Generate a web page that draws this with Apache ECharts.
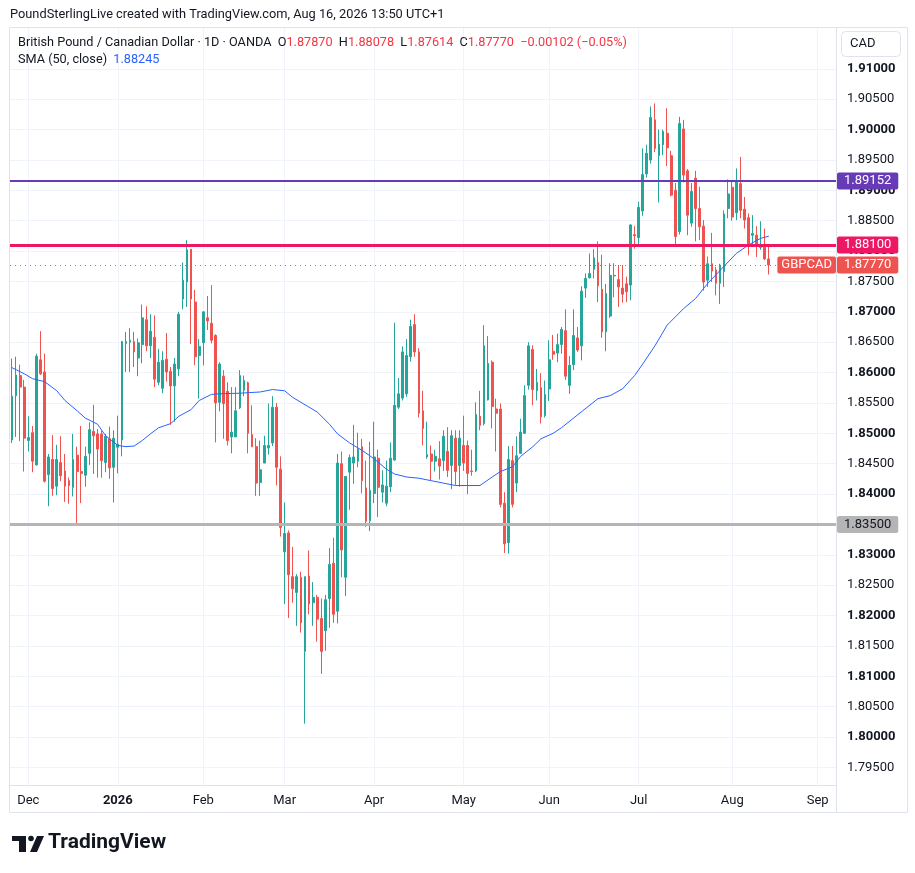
<!DOCTYPE html>
<html><head><meta charset="utf-8">
<script src="https://cdn.jsdelivr.net/npm/echarts@6/dist/echarts.min.js"></script>
<style>html,body{margin:0;padding:0;background:#fff}#c{width:915px;height:873px}</style>
</head><body><div id="c"></div>
<script>
// ---- calendar ----
const firstDate = '2025-11-25';
const holidays = ['2025-12-25', '2026-01-01'];
const slotCount = 203; // trading slots on the axis (data + empty future)
const monthNames = ['Jan','Feb','Mar','Apr','May','Jun','Jul','Aug','Sep','Oct','Nov','Dec'];

// ---- OHLC (GBPCAD daily, OANDA) ----
const opens = [
1.8489,1.8562,1.8595,1.8576,1.8488,1.8501,1.8448,1.8621,1.8601,1.8432,
1.8457,1.8413,1.8452,1.8438,1.8422,1.8411,1.8464,1.8437,1.8431,1.8467,
1.8503,1.8499,1.8499,1.8452,1.8491,1.8444,1.8477,1.8489,1.8648,1.8650,
1.8651,1.8624,1.8646,1.8687,1.8644,1.8658,1.8584,1.8574,1.8622,1.8602,
1.8578,1.8606,1.8721,1.8749,1.8803,1.8716,1.8628,1.8649,1.8690,1.8681,
1.8661,1.8551,1.8594,1.8569,1.8494,1.8494,1.8542,1.8571,1.8583,1.8498,
1.8478,1.8419,1.8451,1.8476,1.8484,1.8543,1.8441,1.8305,1.8336,1.8264,
1.8238,1.8263,1.8141,1.8265,1.8221,1.8230,1.8195,1.8175,1.8228,1.8286,
1.8207,1.8450,1.8263,1.8436,1.8451,1.8454,1.8478,1.8410,1.8356,1.8401,
1.8459,1.8403,1.8385,1.8412,1.8456,1.8543,1.8558,1.8565,1.8626,1.8679,
1.8634,1.8537,1.8461,1.8466,1.8454,1.8458,1.8455,1.8470,1.8447,1.8492,
1.8447,1.8480,1.8480,1.8438,1.8438,1.8528,1.8516,1.8555,1.8617,1.8540,
1.8540,1.8385,1.8320,1.8455,1.8418,1.8467,1.8500,1.8579,1.8638,1.8570,
1.8575,1.8529,1.8573,1.8635,1.8632,1.8646,1.8669,1.8579,1.8613,1.8657,
1.8644,1.8739,1.8756,1.8770,1.8781,1.8737,1.8667,1.8693,1.8759,1.8753,
1.8739,1.8746,1.8744,1.8827,1.8822,1.8866,1.8927,1.8950,1.9016,1.8957,
1.8975,1.8994,1.8957,1.8900,1.8832,1.9001,1.8932,1.8846,1.8920,1.8870,
1.8841,1.8752,1.8779,1.8769,1.8747,1.8766,1.8870,1.8905,1.8863,1.8911,
1.8869,1.8855,1.8826,1.8826,1.8806,1.8811,1.87870];
const highs = [
1.8623,1.8626,1.8613,1.8588,1.8528,1.8512,1.8631,1.8668,1.8631,1.8466,
1.8497,1.8481,1.8495,1.8466,1.8427,1.8499,1.8478,1.8512,1.8478,1.8518,
1.8547,1.8507,1.8504,1.8499,1.8511,1.8505,1.8529,1.8652,1.8667,1.8673,
1.8667,1.8656,1.8712,1.8709,1.8696,1.8694,1.8639,1.8635,1.8665,1.8609,
1.8624,1.8700,1.8781,1.8818,1.8803,1.8736,1.8655,1.8700,1.8726,1.8744,
1.8663,1.8617,1.8604,1.8584,1.8576,1.8576,1.8604,1.8595,1.8585,1.8546,
1.8492,1.8488,1.8496,1.8549,1.8561,1.8550,1.8462,1.8386,1.8340,1.8313,
1.8268,1.8272,1.8264,1.8307,1.8255,1.8234,1.8228,1.8234,1.8311,1.8328,
1.8466,1.8470,1.8429,1.8465,1.8514,1.8501,1.8491,1.8455,1.8486,1.8519,
1.8473,1.8439,1.8455,1.8485,1.8682,1.8591,1.8643,1.8655,1.8687,1.8696,
1.8640,1.8570,1.8519,1.8480,1.8473,1.8487,1.8505,1.8510,1.8505,1.8505,
1.8505,1.8529,1.8488,1.8473,1.8551,1.8570,1.8678,1.8660,1.8620,1.8557,
1.8549,1.8403,1.8479,1.8479,1.8495,1.8524,1.8579,1.8650,1.8645,1.8606,
1.8599,1.8587,1.8653,1.8662,1.8664,1.8675,1.8704,1.8627,1.8704,1.8675,
1.8742,1.8763,1.8796,1.8803,1.8816,1.8794,1.8746,1.8780,1.8780,1.8777,
1.8777,1.8758,1.8844,1.8841,1.8881,1.8969,1.8975,1.9038,1.9043,1.9000,
1.9000,1.9035,1.8965,1.8912,1.9021,1.9016,1.8935,1.8912,1.8932,1.8906,
1.8851,1.8791,1.8830,1.8774,1.8779,1.8867,1.8918,1.8915,1.8936,1.8955,
1.8889,1.8862,1.8859,1.8841,1.8849,1.8837,1.88078];
const lows = [
1.8484,1.8494,1.8487,1.8437,1.8470,1.8436,1.8447,1.8596,1.8419,1.8380,
1.8397,1.8398,1.8421,1.8387,1.8384,1.8396,1.8348,1.8385,1.8412,1.8448,
1.8433,1.8427,1.8427,1.8436,1.8425,1.8386,1.8434,1.8462,1.8601,1.8601,
1.8609,1.8594,1.8615,1.8635,1.8624,1.8576,1.8579,1.8566,1.8585,1.8514,
1.8519,1.8594,1.8704,1.8708,1.8647,1.8612,1.8557,1.8612,1.8670,1.8648,
1.8485,1.8536,1.8491,1.8480,1.8467,1.8494,1.8540,1.8561,1.8467,1.8477,
1.8397,1.8397,1.8451,1.8465,1.8479,1.8414,1.8330,1.8219,1.8196,1.8221,
1.8183,1.8172,1.8022,1.8202,1.8183,1.8157,1.8104,1.8142,1.8180,1.8188,
1.8187,1.8263,1.8232,1.8374,1.8417,1.8444,1.8401,1.8346,1.8339,1.8385,
1.8362,1.8386,1.8380,1.8403,1.8455,1.8540,1.8554,1.8560,1.8618,1.8626,
1.8526,1.8480,1.8458,1.8422,1.8437,1.8424,1.8438,1.8428,1.8408,1.8415,
1.8412,1.8438,1.8400,1.8430,1.8436,1.8505,1.8513,1.8554,1.8508,1.8470,
1.8378,1.8303,1.8302,1.8378,1.8403,1.8466,1.8499,1.8572,1.8546,1.8554,
1.8516,1.8526,1.8553,1.8621,1.8617,1.8631,1.8588,1.8565,1.8604,1.8634,
1.8620,1.8723,1.8755,1.8755,1.8716,1.8657,1.8635,1.8690,1.8724,1.8708,
1.8715,1.8716,1.8719,1.8804,1.8808,1.8858,1.8921,1.8944,1.8963,1.8880,
1.8958,1.8940,1.8890,1.8811,1.8827,1.8913,1.8826,1.8840,1.8816,1.8818,
1.8735,1.8741,1.8749,1.8727,1.8713,1.8741,1.8854,1.8850,1.8851,1.8854,
1.8837,1.8793,1.8808,1.8790,1.8802,1.8785,1.87614];
const closes = [
1.8561,1.8596,1.8576,1.8492,1.8493,1.8454,1.8627,1.8598,1.8421,1.8461,
1.8409,1.8457,1.8430,1.8413,1.8414,1.8457,1.8437,1.8434,1.8462,1.8506,
1.8496,1.8474,1.8455,1.8495,1.8443,1.8492,1.8482,1.8651,1.8651,1.8653,
1.8634,1.8649,1.8690,1.8644,1.8668,1.8589,1.8617,1.8620,1.8601,1.8578,
1.8614,1.8696,1.8752,1.8802,1.8721,1.8626,1.8643,1.8700,1.8685,1.8653,
1.8550,1.8614,1.8549,1.8488,1.8502,1.8537,1.8595,1.8587,1.8500,1.8478,
1.8418,1.8440,1.8480,1.8480,1.8543,1.8444,1.8345,1.8335,1.8267,1.8244,
1.8264,1.8188,1.8264,1.8219,1.8230,1.8194,1.8141,1.8226,1.8284,1.8202,
1.8451,1.8308,1.8429,1.8460,1.8461,1.8474,1.8422,1.8355,1.8406,1.8461,
1.8411,1.8415,1.8413,1.8459,1.8546,1.8565,1.8634,1.8628,1.8676,1.8634,
1.8533,1.8508,1.8465,1.8454,1.8462,1.8446,1.8495,1.8439,1.8496,1.8437,
1.8492,1.8451,1.8434,1.8437,1.8531,1.8513,1.8644,1.8615,1.8544,1.8533,
1.8383,1.8318,1.8457,1.8383,1.8463,1.8502,1.8562,1.8644,1.8572,1.8584,
1.8527,1.8564,1.8621,1.8630,1.8646,1.8671,1.8594,1.8612,1.8661,1.8637,
1.8734,1.8755,1.8763,1.8789,1.8743,1.8667,1.8730,1.8760,1.8760,1.8741,
1.8729,1.8733,1.8843,1.8825,1.8872,1.8926,1.8961,1.9020,1.8969,1.8976,
1.8997,1.8970,1.8892,1.8824,1.9010,1.8925,1.8859,1.8898,1.8870,1.8840,
1.8749,1.8779,1.8767,1.8747,1.8777,1.8861,1.8894,1.8856,1.8916,1.8867,
1.8851,1.8808,1.8829,1.8810,1.8811,1.8787,1.87770];

// ---- SMA(50, close) at these bar numbers (1-based) ----
const smaBar = [1,4,6,9,12,14,17,19,22,24,27,29,31,33,35,37,40,42,45,47,50,52,57,62,65,68,70,74,76,79,81,84,87,90,93,95,98,101,104,107,110,113,116,119,121,124,126,129,131,134,136,145,148,151,154,156,159,162,166,169,172,176,179,182,185,187];
const smaValue = [1.8608,1.8598,1.8590,1.8585,1.8570,1.8554,1.8537,1.8525,1.8515,1.8496,1.8480,1.8478,1.8479,1.8488,1.8499,1.8509,1.8516,1.8528,1.8539,1.8554,1.8564,1.8565,1.8566,1.8568,1.8572,1.8570,1.8559,1.8543,1.8535,1.8515,1.8499,1.8484,1.8472,1.8458,1.8441,1.8433,1.8428,1.8426,1.8422,1.8418,1.8414,1.8414,1.8414,1.8428,1.8437,1.8445,1.8462,1.8478,1.8491,1.8500,1.8509,1.8557,1.8562,1.8573,1.8595,1.8614,1.8644,1.8678,1.8705,1.8722,1.8747,1.8775,1.8796,1.8810,1.8821,1.88245];

// ---- levels and axis ----
const levelValues = [1.89152, 1.88100, 1.83500];
const lastClose = 1.87770;
const priceTicks = [1.795,1.800,1.805,1.810,1.815,1.820,1.825,1.830,1.835,1.840,1.845,1.850,1.855,1.860,1.865,1.870,1.875,1.880,1.885,1.890,1.895,1.900,1.905,1.910];
const priceMin = 1.79210, priceMax = 1.91672;

// ---- build ----
function buildDates() {
  const out = [];
  const d = new Date(firstDate + 'T00:00:00Z');
  while (out.length < slotCount) {
    const wd = d.getUTCDay();
    const s = d.toISOString().slice(0, 10);
    if (wd !== 0 && wd !== 6 && holidays.indexOf(s) < 0) out.push(s);
    d.setUTCDate(d.getUTCDate() + 1);
  }
  return out;
}
const dates = buildDates();
const monthStart = dates.map((s, i) => i > 0 && s.slice(0, 7) !== dates[i - 1].slice(0, 7));
const candleData = opens.map((o, i) => [o, closes[i], lows[i], highs[i]]);
const smaData = opens.map(() => null);
smaBar.forEach((b, j) => { smaData[b - 1] = smaValue[j]; });

const FONT = 'Roboto, "Noto Sans", sans-serif';
const TXT = '#131722';
const GRIDC = '#F0F3FA';
const BORDER = '#E0E3EB';
const UP = '#26A69A', DOWN = '#EF5350';

const chart = echarts.init(document.getElementById('c'), null, { renderer: 'canvas' });
const boxLabel = (bg, fg) => ({
  show: true, position: 'end', distance: 1, backgroundColor: bg, color: fg,
  fontFamily: FONT, fontSize: 13, lineHeight: 13, padding: [2, 7, 2, 7], borderRadius: 2,
  formatter: p => p.value.toFixed(5)
});

chart.setOption({
  animation: false,
  backgroundColor: '#ffffff',
  textStyle: { fontFamily: FONT },
  grid: { left: 10, right: 79, top: 28, bottom: 88, containLabel: false },
  xAxis: {
    type: 'category', data: dates, boundaryGap: true,
    axisLine: { show: true, lineStyle: { color: BORDER } },
    axisTick: { show: false },
    axisLabel: {
      interval: (i) => monthStart[i], color: TXT, fontSize: 13, margin: 9, fontFamily: FONT,
      formatter: (v) => { const m = +v.slice(5, 7); return m === 1 ? '{y|' + v.slice(0, 4) + '}' : monthNames[m - 1]; },
      rich: { y: { fontWeight: 'bold', fontSize: 13, color: TXT, fontFamily: FONT } }
    },
    splitLine: { show: true, interval: (i) => monthStart[i], alignWithLabel: true, lineStyle: { color: GRIDC, width: 1 } }
  },
  yAxis: {
    type: 'value', position: 'right', min: priceMin, max: priceMax, scale: true,
    axisLine: { show: true, lineStyle: { color: BORDER } },
    axisTick: { show: false, customValues: priceTicks },
    axisLabel: {
      customValues: priceTicks, margin: 11, color: TXT, fontSize: 13, fontFamily: FONT,
      formatter: (v) => { const s = v.toFixed(5); return Math.round(v * 1000) % 10 === 0 ? '{b|' + s + '}' : '{n|' + s + '}'; },
      rich: { b: { fontWeight: 'bold', fontSize: 13, color: TXT, fontFamily: FONT }, n: { fontSize: 13, color: TXT, fontFamily: FONT } }
    },
    splitLine: { show: true, lineStyle: { color: GRIDC, width: 1 } }
  },
  series: [
    {
      type: 'candlestick', name: 'GBPCAD', data: candleData, barWidth: '55%',
      itemStyle: { color: UP, color0: DOWN, borderColor: UP, borderColor0: DOWN, borderWidth: 1 },
      markLine: {
        symbol: 'none', silent: true, animation: false, precision: 5,
        data: [
          { yAxis: lastClose, lineStyle: { color: DOWN, width: 1, type: [1, 4] }, label: boxLabel(DOWN, '#ffffff') },
          { yAxis: lastClose, lineStyle: { color: 'rgba(0,0,0,0)', width: 1 }, label: Object.assign(boxLabel(DOWN, '#ffffff'), { position: 'insideEnd', distance: 0, padding: [2, 4, 2, 4], formatter: 'GBPCAD' }) },
          { yAxis: levelValues[0], lineStyle: { color: '#673AB7', width: 2, type: 'solid' }, label: boxLabel('#673AB7', '#ffffff') },
          { yAxis: levelValues[1], lineStyle: { color: '#EE1763', width: 3, type: 'solid' }, label: boxLabel('#EE1763', '#ffffff') },
          { yAxis: levelValues[2], lineStyle: { color: '#B5B5B5', width: 3, type: 'solid' }, label: boxLabel('#B5B5B5', TXT) }
        ]
      }
    },
    {
      type: 'line', name: 'SMA', data: smaData, connectNulls: true, showSymbol: false, smooth: false,
      lineStyle: { color: '#2962FF', width: 1 }, itemStyle: { color: '#2962FF' }, z: 3
    }
  ],
  graphic: [
    { type: 'rect', silent: true, z: 0, shape: { x: 9.5, y: 27.5, width: 898, height: 785 }, style: { fill: 'none', stroke: BORDER, lineWidth: 1 } },
    { type: 'line', silent: true, z: 0, shape: { x1: 836.5, y1: 785, x2: 836.5, y2: 813 }, style: { stroke: BORDER, lineWidth: 1 } },
    { type: 'text', silent: true, x: 10, y: 8, style: { text: 'PoundSterlingLive created with TradingView.com, Aug 16, 2026 13:50 UTC+1', fill: TXT, font: '12.8px ' + FONT } },
    { type: 'text', silent: true, z: 10, x: 18, y: 36, style: {
        text: '{t|British Pound / Canadian Dollar · 1D · OANDA}  {t|O}{r|1.87870}  {t|H}{r|1.88078}  {t|L}{r|1.87614}  {t|C}{r|1.87770}  {r|−0.00102 (−0.05%)}',
        font: '12.7px ' + FONT, fill: TXT,
        rich: { t: { fill: TXT, font: '12.7px ' + FONT }, r: { fill: '#F23645', font: '12.7px ' + FONT } } } },
    { type: 'text', silent: true, z: 10, x: 18, y: 53, style: {
        text: '{t|SMA (50, close)}  {b|1.88245}', font: '12.7px ' + FONT, fill: TXT,
        rich: { t: { fill: TXT, font: '12.7px ' + FONT }, b: { fill: '#2962FF', font: '12.7px ' + FONT } } } },
    { type: 'rect', silent: true, z: 10, shape: { x: 841.5, y: 31.5, width: 59, height: 25, r: 4 }, style: { fill: '#ffffff', stroke: BORDER, lineWidth: 1 } },
    { type: 'text', silent: true, z: 11, x: 850, y: 37, style: { text: 'CAD', fill: TXT, font: '13px ' + FONT } },
    { type: 'rect', silent: true, shape: { x: 12, y: 836, width: 14, height: 5 }, style: { fill: '#131722' } },
    { type: 'rect', silent: true, shape: { x: 19, y: 836, width: 7, height: 16 }, style: { fill: '#131722' } },
    { type: 'circle', silent: true, shape: { cx: 31, cy: 838.5, r: 2.8 }, style: { fill: '#131722' } },
    { type: 'polygon', silent: true, shape: { points: [[37, 836], [44, 836], [37, 852], [30, 852]] }, style: { fill: '#131722' } },
    { type: 'text', silent: true, x: 48, y: 832, style: { text: 'TradingView', fill: '#131722', font: 'bold 21px ' + FONT } }
  ]
});
</script>
</body></html>
